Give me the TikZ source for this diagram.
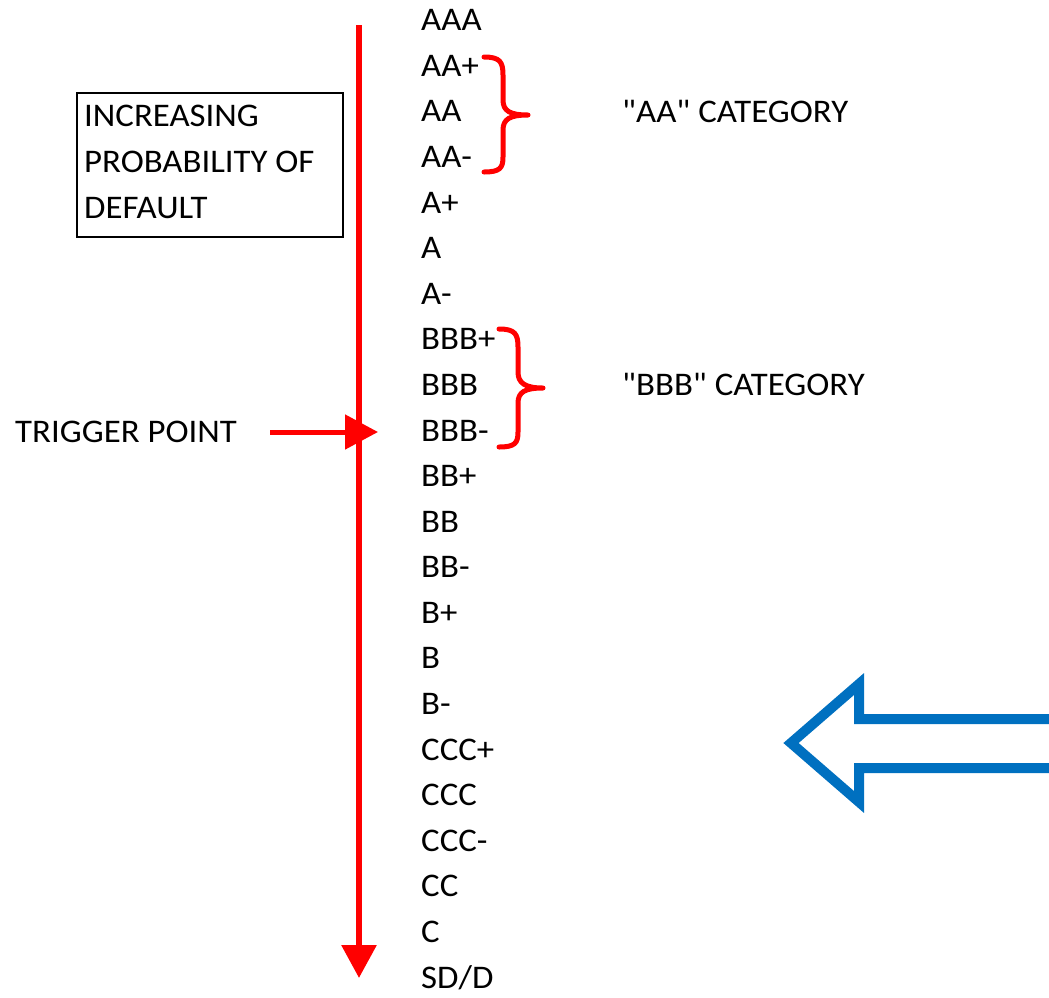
\documentclass[tikz,border=0pt]{standalone}
\usepackage{fontspec}
\setmainfont{Carlito}[Ligatures=TeXOff, FakeStretch=1.055]
\usetikzlibrary{arrows.meta}
\definecolor{wred}{HTML}{FF0000}
\definecolor{wblue}{HTML}{0070C0}
\tikzset{
  lbl/.style={anchor=base west, inner sep=0pt, font=\fontsize{33}{38}\selectfont},
  redline/.style={draw=wred, line width=6pt},
  bracepath/.style={draw=wred, line width=5pt, line cap=round, line join=round},
}
\begin{document}
\begin{tikzpicture}[x=1pt,y=-1pt]
\useasboundingbox (0,0) rectangle (1049,997);
% ratings
\foreach \t [count=\i from 0] in {AAA,AA+,AA,AA-,A+,A,A-,BBB+,BBB,BBB-,BB+,BB,BB-,B+,B,B-,CCC+,CCC,CCC-,CC,C,SD/D}{
  \node[lbl] (r\i) at (421,30.7+45.59*\i) {\t};
}
% box
\node[draw, line width=1.5pt, minimum width=266pt, minimum height=144pt, inner sep=0pt] (box) at (210,165) {};
\node[lbl] (b1) at (84,126.7) {INCREASING};
\node[lbl] (b2) at (84,172.7) {PROBABILITY OF};
\node[lbl] (b3) at (84,218.5) {DEFAULT};
% vertical red arrow
\coordinate (vtop) at (359,25);
\coordinate (vbot) at (359,978);
\draw[redline, -{Triangle[length={33pt 0 0}, width={34pt 0 0}]}] (vtop) -- (vbot);
% trigger
\node[lbl] (trig) at (15,442.5) {TRIGGER POINT};
\coordinate (tstart) at (270,432);
\coordinate (tend) at (378,432);
\draw[draw=wred, line width=5pt, -{Triangle[length={33pt 0 0}, width={34pt 0 0}]}] (tstart) -- (tend);
% braces
\draw[bracepath] (484,57) .. controls (500,57) and (503,62) .. (503,75) -- (503,100)
   .. controls (503,111) and (510,115) .. (528,115)
   .. controls (510,115) and (503,119) .. (503,130) -- (503,157)
   .. controls (503,168) and (500,172) .. (484,172);
\draw[bracepath] (499,329) .. controls (515,329) and (518,334) .. (518,347) -- (518,372)
   .. controls (518,383) and (525,388) .. (543,388)
   .. controls (525,388) and (518,392) .. (518,403) -- (518,432)
   .. controls (518,443) and (515,447) .. (499,447);
\node[lbl] (aacat) at (622,122) {"AA" CATEGORY};
\node[lbl] (bbbcat) at (622,395.5) {"BBB" CATEGORY};
% blue hollow arrow
\draw[draw=wblue, line width=10pt, line join=miter, fill=white]
  (791,743) -- (859,684) -- (859,719) -- (1060,719) -- (1060,768) -- (859,768) -- (859,802) -- cycle;
\end{tikzpicture}
\end{document}
